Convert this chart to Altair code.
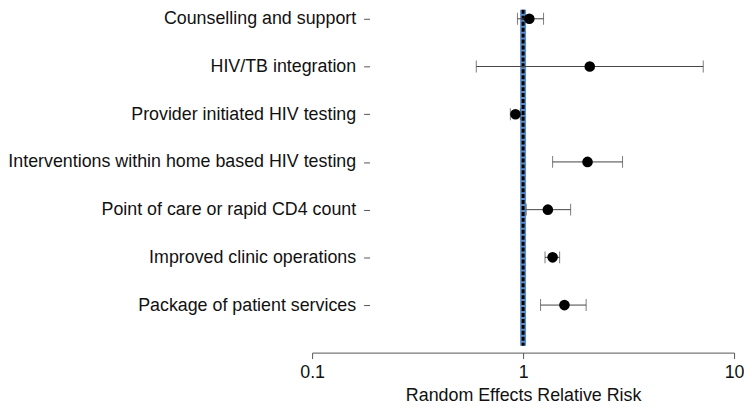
import altair as alt
import pandas as pd

categories = [
    "Counselling and support",
    "HIV/TB integration",
    "Provider initiated HIV testing",
    "Interventions within home based HIV testing",
    "Point of care or rapid CD4 count",
    "Improved clinic operations",
    "Package of patient services",
]
rr = [1.07, 2.07, 0.92, 2.02, 1.31, 1.38, 1.57]
lower = [0.94, 0.60, 0.87, 1.38, 1.035, 1.27, 1.21]
upper = [1.25, 7.14, 0.97, 2.96, 1.68, 1.49, 1.99]
ref_value = [1.0]
x_ticks = [0.1, 1, 10]

df = pd.DataFrame({"category": categories, "rr": rr, "lo": lower, "hi": upper})
ref = pd.DataFrame({"x": ref_value})

FONT = "Liberation Sans"

xscale = alt.Scale(type="log", domain=[0.1, 10], nice=False)
yscale = alt.Scale(type="point", domain=categories, range=[9, 298], padding=0)

xaxis = alt.Axis(
    title="Random Effects Relative Risk",
    values=x_ticks,
    format="~g",
    grid=False,
    tickSize=6,
    tickColor="#555555",
    domainColor="#555555",
    labelFontSize=18,
    labelColor="#111111",
    labelPadding=5,
    labelFlush=False,
    titleFontSize=18,
    titleFontWeight="normal",
    titleColor="#111111",
    titlePadding=5,
)
yaxis = alt.Axis(
    title=None,
    domain=False,
    offset=-58,
    tickSize=6,
    tickColor="#555555",
    labelFontSize=18,
    labelColor="#111111",
    labelPadding=8,
    labelLimit=0,
    grid=False,
)

base = alt.Chart(df)

vline_blue = alt.Chart(ref).mark_rule(color="#5b8cc8", strokeWidth=6).encode(
    x=alt.X("x:Q", scale=xscale, axis=xaxis),
    y=alt.value(0),
    y2=alt.value(339),
)
vline_black = alt.Chart(ref).mark_rule(
    color="#000000", strokeWidth=3, strokeDash=[4, 2]
).encode(
    x=alt.X("x:Q", scale=xscale),
    y=alt.value(0),
    y2=alt.value(339),
)

err = base.mark_rule(color="#444444", strokeWidth=1).encode(
    x=alt.X("lo:Q", scale=xscale),
    x2="hi:Q",
    y=alt.Y("category:N", scale=yscale, axis=yaxis, sort=categories),
)
cap_lo = base.mark_tick(color="#444444", thickness=1, size=12).encode(
    x=alt.X("lo:Q", scale=xscale),
    y=alt.Y("category:N", scale=yscale, sort=categories),
)
cap_hi = base.mark_tick(color="#444444", thickness=1, size=12).encode(
    x=alt.X("hi:Q", scale=xscale),
    y=alt.Y("category:N", scale=yscale, sort=categories),
)
points = base.mark_circle(color="#000000", opacity=1, size=115).encode(
    x=alt.X("rr:Q", scale=xscale),
    y=alt.Y("category:N", scale=yscale, sort=categories),
)

chart = (
    alt.layer(vline_blue, vline_black, err, cap_lo, cap_hi, points)
    .properties(
        width=426,
        height=346,
        autosize=alt.AutoSizeParams(type="none"),
        padding={"left": 307, "top": 0, "right": 10, "bottom": 52},
    )
    .configure(font=FONT)
    .configure_view(stroke=None)
)

chart.save("out.html", embed_options={"renderer": "svg", "actions": False})
